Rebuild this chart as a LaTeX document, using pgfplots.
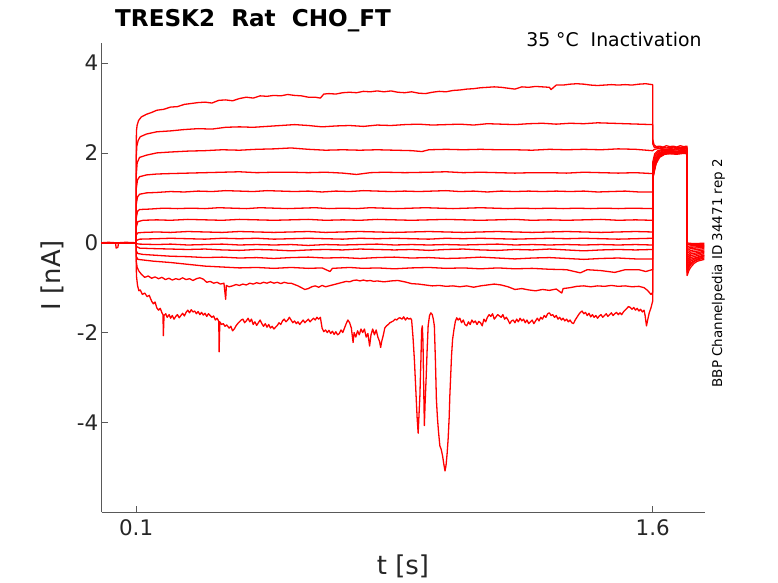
\documentclass[border=0pt]{standalone}
\usepackage{fontspec}
\setmainfont{DejaVu Sans}
\usepackage{pgfplots}
\pgfplotsset{compat=1.18}
\definecolor{axgray}{HTML}{262626}
\pgfplotsset{tr/.style={red, line width=1.3bp, line join=round, mark=none}}
\begin{document}
\begin{tikzpicture}[x=1bp,y=1bp]
\useasboundingbox (0,0) rectangle (778,583);
\begin{axis}[
  at={(101.7bp,70.7bp)}, anchor=south west,
  scale only axis, width=603.3bp, height=469bp,
  xmin=0, xmax=1.752, ymin=-6, ymax=4.44,
  axis x line*=bottom, axis y line*=left,
  xtick={0.1,1.6}, xticklabels={0.1,1.6},
  ytick={-4,-2,0,2,4}, yticklabels={-4,-2,0,2,4},
  tick align=inside, major tick length=6bp,
  axis line style={black!65, line width=0.6bp},
  tick style={black!65, line width=0.6bp},
  tick label style={font=\fontsize{21.5}{25}\selectfont, text=axgray},
  xticklabel style={yshift=-4bp},
  clip=true,
]
% trace 1
\addplot[tr] coordinates {(0,0)(0.1,0)(0.1003,2.2)(0.101,2.5)(0.103,2.62)(0.107,2.72)(0.115,2.80)(0.13,2.86)(0.145,2.90)(0.16,2.95)(0.18,2.97)(0.2,3.02)(0.22,3.03)(0.24,3.08)(0.26,3.10)(0.28,3.12)(0.3,3.13)(0.32,3.11)(0.34,3.17)(0.36,3.18)(0.38,3.16)(0.4,3.21)(0.42,3.24)(0.44,3.22)(0.46,3.27)(0.48,3.26)(0.5,3.28)(0.52,3.27)(0.54,3.30)(0.56,3.28)(0.58,3.27)(0.6,3.24)(0.62,3.24)(0.635,3.22)(0.645,3.31)(0.66,3.32)(0.68,3.31)(0.7,3.34)(0.72,3.35)(0.74,3.34)(0.76,3.37)(0.78,3.36)(0.8,3.38)(0.82,3.36)(0.84,3.38)(0.86,3.35)(0.88,3.34)(0.9,3.36)(0.92,3.33)(0.94,3.32)(0.96,3.35)(0.98,3.37)(1.0,3.36)(1.02,3.39)(1.04,3.40)(1.06,3.42)(1.08,3.43)(1.1,3.45)(1.12,3.46)(1.14,3.47)(1.16,3.46)(1.18,3.44)(1.2,3.42)(1.22,3.47)(1.24,3.46)(1.26,3.48)(1.28,3.47)(1.3,3.46)(1.305,3.41)(1.32,3.51)(1.34,3.51)(1.36,3.53)(1.38,3.54)(1.4,3.53)(1.42,3.51)(1.44,3.50)(1.46,3.51)(1.48,3.52)(1.5,3.51)(1.52,3.52)(1.54,3.51)(1.56,3.53)(1.58,3.54)(1.598,3.52)
(1.6,3.52)(1.6003,2.3)(1.604,2.18)(1.61,2.14)(1.62,2.15)(1.63,2.13)(1.64,2.16)(1.65,2.14)(1.66,2.15)(1.67,2.13)(1.68,2.16)(1.69,2.14)(1.6995,2.15)(1.7,0.0)(1.705,-0.01)(1.72,-0.02)(1.75,-0.01)};
% trace 2
\addplot[tr] coordinates {(0,0)(0.1,0)(0.1003,1.9)(0.102,2.15)(0.106,2.28)(0.112,2.36)(0.13,2.42)(0.16,2.47)(0.2,2.49)(0.24,2.52)(0.28,2.54)(0.32,2.53)(0.36,2.57)(0.4,2.58)(0.44,2.57)(0.48,2.59)(0.52,2.61)(0.56,2.63)(0.6,2.61)(0.64,2.58)(0.68,2.60)(0.72,2.61)(0.76,2.59)(0.8,2.62)(0.84,2.61)(0.88,2.63)(0.92,2.64)(0.96,2.62)(1.0,2.63)(1.04,2.64)(1.08,2.62)(1.12,2.65)(1.16,2.64)(1.2,2.63)(1.24,2.65)(1.28,2.66)(1.32,2.64)(1.36,2.66)(1.4,2.65)(1.44,2.67)(1.48,2.66)(1.52,2.65)(1.56,2.64)(1.598,2.63)
(1.6,2.63)(1.6003,2.2)(1.605,2.12)(1.62,2.13)(1.64,2.11)(1.66,2.13)(1.68,2.12)(1.6995,2.12)(1.7,-0.04)(1.71,-0.04)(1.75,-0.04)};
% trace 3
\addplot[tr] coordinates {(0,0)(0.1,0)(0.1003,1.5)(0.103,1.78)(0.11,1.90)(0.13,1.95)(0.16,2.0)(0.2,2.02)(0.25,2.04)(0.3,2.05)(0.35,2.07)(0.4,2.06)(0.45,2.08)(0.5,2.09)(0.55,2.11)(0.6,2.08)(0.65,2.06)(0.7,2.07)(0.75,2.06)(0.8,2.07)(0.85,2.06)(0.9,2.05)(0.93,2.03)(0.95,2.07)(1.0,2.08)(1.05,2.07)(1.1,2.08)(1.15,2.07)(1.2,2.07)(1.25,2.06)(1.3,2.08)(1.35,2.07)(1.4,2.08)(1.45,2.07)(1.5,2.09)(1.55,2.08)(1.598,2.05)
(1.6,2.05)(1.605,2.08)(1.62,2.1)(1.64,2.08)(1.66,2.11)(1.68,2.09)(1.6995,2.1)(1.7,-0.08)(1.71,-0.07)(1.75,-0.06)};
% trace 4
\addplot[tr] coordinates {(0,0)(0.1,0)(0.1003,1.2)(0.104,1.40)(0.11,1.47)(0.13,1.51)(0.16,1.53)(0.2,1.54)(0.25,1.55)(0.3,1.56)(0.35,1.57)(0.4,1.58)(0.45,1.56)(0.5,1.57)(0.55,1.57)(0.6,1.56)(0.65,1.57)(0.7,1.55)(0.74,1.52)(0.78,1.56)(0.82,1.57)(0.88,1.56)(0.95,1.57)(1.0,1.58)(1.05,1.56)(1.1,1.57)(1.15,1.56)(1.2,1.55)(1.25,1.56)(1.3,1.56)(1.35,1.55)(1.4,1.57)(1.45,1.56)(1.5,1.55)(1.55,1.56)(1.598,1.54)
(1.6,1.54)(1.6003,1.8)(1.606,1.98)(1.615,2.05)(1.63,2.08)(1.65,2.07)(1.67,2.09)(1.69,2.08)(1.6995,2.09)(1.7,-0.13)(1.71,-0.1)(1.75,-0.08)};
% trace 5
\addplot[tr] coordinates {(0,0)(0.1,0)(0.1003,0.85)(0.104,1.02)(0.11,1.08)(0.13,1.11)(0.16,1.12)(0.2,1.14)(0.24,1.13)(0.28,1.15)(0.32,1.14)(0.36,1.16)(0.4,1.15)(0.44,1.14)(0.48,1.16)(0.52,1.15)(0.56,1.14)(0.6,1.15)(0.64,1.13)(0.68,1.15)(0.72,1.14)(0.76,1.16)(0.8,1.15)(0.84,1.14)(0.88,1.15)(0.92,1.14)(0.96,1.15)(1.0,1.16)(1.04,1.14)(1.08,1.15)(1.12,1.13)(1.16,1.15)(1.2,1.14)(1.24,1.15)(1.28,1.14)(1.32,1.15)(1.36,1.14)(1.4,1.15)(1.44,1.13)(1.48,1.14)(1.52,1.15)(1.56,1.13)(1.598,1.13)
(1.6,1.13)(1.6003,1.7)(1.607,1.94)(1.617,2.03)(1.63,2.06)(1.65,2.05)(1.67,2.07)(1.69,2.06)(1.6995,2.07)(1.7,-0.18)(1.71,-0.13)(1.75,-0.1)};
% trace 6
\addplot[tr] coordinates {(0,0)(0.1,0)(0.1003,0.55)(0.104,0.7)(0.11,0.74)(0.14,0.75)(0.18,0.77)(0.22,0.76)(0.26,0.77)(0.3,0.76)(0.34,0.78)(0.38,0.77)(0.42,0.76)(0.46,0.78)(0.5,0.77)(0.54,0.76)(0.58,0.77)(0.62,0.78)(0.66,0.76)(0.7,0.77)(0.74,0.76)(0.78,0.78)(0.82,0.77)(0.86,0.76)(0.9,0.77)(0.94,0.78)(0.98,0.77)(1.02,0.76)(1.06,0.77)(1.1,0.78)(1.14,0.77)(1.18,0.76)(1.22,0.77)(1.26,0.76)(1.3,0.77)(1.34,0.76)(1.38,0.77)(1.42,0.76)(1.46,0.77)(1.5,0.76)(1.54,0.77)(1.598,0.76)
(1.6,0.76)(1.6003,1.62)(1.608,1.9)(1.618,2.0)(1.63,2.04)(1.65,2.05)(1.67,2.04)(1.69,2.06)(1.6995,2.05)(1.7,-0.24)(1.71,-0.17)(1.75,-0.13)};
% trace 7
\addplot[tr] coordinates {(0,0)(0.1,0)(0.1003,0.35)(0.105,0.47)(0.12,0.5)(0.16,0.51)(0.2,0.5)(0.25,0.52)(0.3,0.51)(0.35,0.5)(0.4,0.52)(0.45,0.51)(0.5,0.5)(0.55,0.51)(0.6,0.52)(0.65,0.5)(0.7,0.51)(0.75,0.5)(0.8,0.52)(0.85,0.51)(0.9,0.5)(0.95,0.51)(1.0,0.52)(1.05,0.51)(1.1,0.5)(1.15,0.51)(1.2,0.52)(1.25,0.5)(1.3,0.51)(1.35,0.5)(1.4,0.51)(1.45,0.52)(1.5,0.5)(1.55,0.51)(1.598,0.5)
(1.6,0.5)(1.6003,1.58)(1.609,1.88)(1.62,1.99)(1.635,2.03)(1.65,2.04)(1.67,2.03)(1.69,2.05)(1.6995,2.04)(1.7,-0.3)(1.71,-0.21)(1.75,-0.16)};
% trace 8
\addplot[tr] coordinates {(0,0)(0.1,0)(0.1003,0.17)(0.105,0.22)(0.12,0.23)(0.16,0.24)(0.2,0.23)(0.25,0.25)(0.3,0.24)(0.35,0.23)(0.4,0.25)(0.45,0.24)(0.5,0.23)(0.55,0.24)(0.6,0.25)(0.65,0.23)(0.7,0.24)(0.75,0.25)(0.8,0.24)(0.85,0.23)(0.9,0.24)(0.95,0.25)(1.0,0.24)(1.05,0.23)(1.1,0.24)(1.15,0.25)(1.2,0.24)(1.25,0.23)(1.3,0.24)(1.35,0.25)(1.4,0.24)(1.45,0.23)(1.5,0.24)(1.55,0.25)(1.598,0.24)
(1.6,0.24)(1.6003,1.55)(1.61,1.86)(1.62,1.97)(1.635,2.02)(1.65,2.03)(1.67,2.02)(1.69,2.04)(1.6995,2.03)(1.7,-0.35)(1.71,-0.25)(1.75,-0.19)};
% trace 9
\addplot[tr] coordinates {(0,0)(0.1,0)(0.1003,0.05)(0.11,0.08)(0.16,0.09)(0.2,0.1)(0.25,0.09)(0.3,0.08)(0.35,0.1)(0.4,0.09)(0.45,0.1)(0.5,0.08)(0.55,0.09)(0.6,0.1)(0.65,0.09)(0.7,0.08)(0.75,0.1)(0.8,0.09)(0.85,0.1)(0.9,0.09)(0.95,0.08)(1.0,0.1)(1.05,0.09)(1.1,0.1)(1.15,0.09)(1.2,0.08)(1.25,0.09)(1.3,0.1)(1.35,0.09)(1.4,0.1)(1.45,0.09)(1.5,0.08)(1.55,0.09)(1.598,0.1)
(1.6,0.1)(1.6003,1.52)(1.61,1.84)(1.62,1.95)(1.635,2.01)(1.65,2.02)(1.67,2.01)(1.69,2.03)(1.6995,2.02)(1.7,-0.4)(1.71,-0.29)(1.75,-0.21)};
% trace 10
\addplot[tr] coordinates {(0,0)(0.1,0)(0.1003,-0.02)(0.11,-0.03)(0.16,-0.04)(0.2,-0.03)(0.25,-0.05)(0.3,-0.04)(0.35,-0.03)(0.4,-0.05)(0.45,-0.04)(0.5,-0.05)(0.55,-0.04)(0.6,-0.06)(0.65,-0.04)(0.7,-0.05)(0.75,-0.04)(0.8,-0.03)(0.85,-0.05)(0.9,-0.04)(0.95,-0.05)(1.0,-0.04)(1.05,-0.05)(1.1,-0.04)(1.15,-0.03)(1.2,-0.05)(1.25,-0.04)(1.3,-0.05)(1.35,-0.04)(1.4,-0.05)(1.45,-0.04)(1.5,-0.05)(1.55,-0.04)(1.598,-0.05)
(1.6,-0.05)(1.6003,1.5)(1.61,1.82)(1.62,1.94)(1.635,2.0)(1.65,2.01)(1.67,2.0)(1.69,2.02)(1.6995,2.01)(1.7,-0.45)(1.71,-0.33)(1.75,-0.24)};
% trace 11
\addplot[tr] coordinates {(0,0)(0.1,0)(0.1003,-0.08)(0.11,-0.12)(0.15,-0.13)(0.2,-0.14)(0.25,-0.15)(0.3,-0.14)(0.35,-0.16)(0.4,-0.17)(0.45,-0.15)(0.5,-0.16)(0.55,-0.18)(0.6,-0.16)(0.65,-0.15)(0.7,-0.16)(0.75,-0.14)(0.8,-0.15)(0.85,-0.16)(0.9,-0.15)(0.95,-0.17)(1.0,-0.15)(1.05,-0.14)(1.1,-0.16)(1.15,-0.17)(1.2,-0.15)(1.25,-0.16)(1.3,-0.14)(1.35,-0.16)(1.4,-0.18)(1.45,-0.16)(1.5,-0.15)(1.55,-0.16)(1.598,-0.15)
(1.6,-0.15)(1.6003,1.48)(1.61,1.8)(1.62,1.93)(1.635,1.99)(1.65,2.0)(1.67,1.99)(1.69,2.01)(1.6995,2.0)(1.7,-0.5)(1.71,-0.37)(1.75,-0.27)};
% trace 12
\addplot[tr] coordinates {(0,0)(0.1,0)(0.1003,-0.18)(0.105,-0.24)(0.12,-0.26)(0.16,-0.28)(0.2,-0.3)(0.25,-0.31)(0.3,-0.33)(0.35,-0.32)(0.4,-0.34)(0.45,-0.33)(0.5,-0.35)(0.55,-0.33)(0.6,-0.32)(0.65,-0.34)(0.7,-0.33)(0.75,-0.35)(0.8,-0.33)(0.85,-0.32)(0.9,-0.34)(0.95,-0.33)(1.0,-0.35)(1.05,-0.34)(1.1,-0.32)(1.15,-0.34)(1.2,-0.36)(1.25,-0.34)(1.3,-0.33)(1.35,-0.35)(1.4,-0.37)(1.45,-0.35)(1.5,-0.34)(1.55,-0.36)(1.598,-0.36)
(1.6,-0.36)(1.6003,1.46)(1.61,1.78)(1.62,1.92)(1.635,1.98)(1.65,1.99)(1.67,1.98)(1.69,2.0)(1.6995,1.99)(1.7,-0.55)(1.71,-0.41)(1.73,-0.33)(1.75,-0.29)};
% trace 13
\addplot[tr] coordinates {(0,0)(0.1,0)(0.1003,-0.3)(0.105,-0.37)(0.15,-0.41)(0.2,-0.44)(0.25,-0.48)(0.3,-0.52)(0.35,-0.54)(0.4,-0.56)(0.45,-0.55)(0.5,-0.57)(0.55,-0.55)(0.6,-0.57)(0.64,-0.56)(0.663,-0.64)(0.67,-0.57)(0.72,-0.55)(0.76,-0.57)(0.8,-0.56)(0.85,-0.58)(0.9,-0.56)(0.95,-0.55)(1.0,-0.57)(1.05,-0.56)(1.1,-0.58)(1.15,-0.56)(1.2,-0.58)(1.25,-0.57)(1.3,-0.59)(1.35,-0.6)(1.39,-0.67)(1.41,-0.6)(1.45,-0.62)(1.49,-0.66)(1.52,-0.6)(1.56,-0.6)(1.58,-0.64)(1.598,-0.6)
(1.6,-0.6)(1.6003,1.44)(1.61,1.76)(1.62,1.9)(1.635,1.97)(1.65,1.98)(1.67,1.97)(1.69,1.99)(1.6995,1.98)(1.7,-0.6)(1.71,-0.45)(1.73,-0.36)(1.75,-0.31)};
% trace 14
\addplot[tr] coordinates {(0,0)(0.1,0)(0.1003,-0.4)(0.103,-0.55)(0.108,-0.63)(0.115,-0.7)(0.125,-0.77)(0.135,-0.74)(0.145,-0.79)(0.155,-0.76)(0.165,-0.8)(0.175,-0.77)(0.185,-0.82)(0.195,-0.79)(0.205,-0.83)(0.215,-0.8)(0.225,-0.82)(0.235,-0.78)(0.245,-0.82)(0.255,-0.8)(0.265,-0.84)(0.275,-0.8)(0.285,-0.78)(0.295,-0.81)(0.305,-0.88)(0.315,-0.86)(0.325,-0.9)(0.335,-0.88)(0.345,-0.92)(0.355,-0.9)(0.36,-1.26)(0.362,-0.95)(0.37,-0.98)(0.38,-0.96)(0.39,-0.93)(0.4,-0.95)(0.41,-0.92)(0.42,-0.94)(0.43,-0.9)(0.44,-0.92)(0.45,-0.89)(0.46,-0.91)(0.47,-0.88)(0.48,-0.9)(0.49,-0.87)(0.5,-0.9)(0.51,-0.88)(0.52,-0.91)(0.53,-0.88)(0.54,-0.9)(0.55,-0.9)(0.56,-0.93)(0.57,-0.96)(0.58,-1.0)(0.59,-1.04)(0.6,-1.02)(0.61,-0.98)(0.62,-0.96)(0.63,-0.99)(0.64,-0.95)(0.65,-0.98)(0.66,-0.96)(0.67,-0.94)(0.68,-0.92)(0.69,-0.9)(0.7,-0.88)(0.71,-0.86)(0.72,-0.87)(0.73,-0.84)(0.74,-0.83)(0.75,-0.85)(0.76,-0.83)(0.77,-0.85)(0.78,-0.84)(0.79,-0.86)(0.8,-0.85)(0.82,-0.87)(0.84,-0.85)(0.86,-0.84)(0.88,-0.87)(0.9,-0.91)(0.92,-0.92)(0.94,-0.94)(0.96,-0.96)(0.98,-0.95)(1.0,-0.97)(1.02,-0.96)(1.04,-0.98)(1.06,-0.96)(1.08,-0.99)(1.1,-0.96)(1.12,-0.94)(1.14,-0.92)(1.16,-0.94)(1.18,-0.98)(1.2,-1.04)(1.22,-1.02)(1.24,-1.05)(1.26,-1.07)(1.28,-1.04)(1.3,-1.06)(1.32,-1.03)(1.336,-1.12)(1.34,-1.02)(1.36,-1.0)(1.38,-0.97)(1.4,-0.96)(1.42,-0.98)(1.44,-0.96)(1.46,-0.97)(1.48,-0.95)(1.5,-0.97)(1.52,-0.96)(1.54,-0.98)(1.56,-0.97)(1.575,-1.0)(1.585,-1.06)(1.595,-1.15)(1.599,-1.12)
(1.6,-1.1)(1.6003,1.42)(1.605,1.68)(1.61,1.84)(1.62,1.95)(1.63,1.99)(1.64,2.01)(1.66,2.0)(1.68,2.02)(1.6995,2.01)(1.7,-0.66)(1.705,-0.56)(1.71,-0.49)(1.72,-0.42)(1.73,-0.38)(1.75,-0.34)};
% trace 15
\addplot[tr] coordinates {(0,0)(0.02,0.01)(0.04,0)(0.042,-0.12)(0.047,-0.1)(0.049,0)(0.07,0.01)(0.1,0)(0.1003,-0.5)(0.101,-0.74)(0.104,-0.95)(0.108,-1.07)(0.112,-1.05)(0.118,-1.15)(0.125,-1.12)(0.132,-1.2)(0.138,-1.17)(0.145,-1.3)(0.15,-1.36)(0.155,-1.32)(0.16,-1.45)(0.165,-1.5)(0.17,-1.46)(0.175,-1.56)(0.178,-1.6)(0.179,-2.07)(0.181,-1.62)(0.186,-1.58)(0.19,-1.66)(0.196,-1.6)(0.2,-1.68)(0.205,-1.62)(0.21,-1.7)(0.215,-1.64)(0.22,-1.6)(0.225,-1.67)(0.23,-1.62)(0.235,-1.57)(0.24,-1.63)(0.245,-1.55)(0.25,-1.5)(0.255,-1.56)(0.26,-1.49)(0.265,-1.54)(0.27,-1.52)(0.275,-1.58)(0.28,-1.53)(0.285,-1.6)(0.29,-1.55)(0.295,-1.61)(0.3,-1.57)(0.305,-1.64)(0.31,-1.58)(0.315,-1.62)(0.32,-1.66)(0.325,-1.63)(0.33,-1.72)(0.335,-1.68)(0.34,-1.75)(0.341,-2.43)(0.343,-1.76)(0.348,-1.82)(0.353,-1.8)(0.358,-1.86)(0.363,-1.83)(0.37,-1.9)(0.375,-1.86)(0.38,-1.96)(0.385,-1.92)(0.39,-1.85)(0.395,-1.8)(0.4,-1.76)(0.405,-1.72)(0.41,-1.7)(0.415,-1.78)(0.42,-1.74)(0.425,-1.68)(0.43,-1.76)(0.435,-1.7)(0.44,-1.82)(0.445,-1.76)(0.45,-1.84)(0.455,-1.78)(0.46,-1.72)(0.465,-1.8)(0.47,-1.86)(0.475,-1.8)(0.48,-1.88)(0.485,-1.82)(0.49,-1.9)(0.495,-1.86)(0.5,-1.92)(0.505,-1.88)(0.51,-1.84)(0.515,-1.78)(0.52,-1.82)(0.525,-1.74)(0.53,-1.7)(0.535,-1.76)(0.54,-1.72)(0.545,-1.66)(0.55,-1.72)(0.555,-1.78)(0.56,-1.74)(0.565,-1.8)(0.57,-1.76)(0.575,-1.82)(0.58,-1.77)(0.585,-1.72)(0.59,-1.78)(0.595,-1.74)(0.6,-1.7)(0.605,-1.76)(0.61,-1.72)(0.615,-1.68)(0.62,-1.72)(0.625,-1.66)(0.63,-1.7)(0.635,-1.66)(0.64,-1.9)(0.645,-1.98)(0.65,-1.94)(0.655,-2.0)(0.66,-1.95)(0.665,-2.02)(0.67,-1.97)(0.675,-2.04)(0.68,-1.98)(0.685,-2.05)(0.69,-2.02)(0.695,-1.94)(0.7,-2.0)(0.705,-1.9)(0.71,-1.8)(0.715,-1.72)(0.72,-1.78)(0.725,-1.9)(0.73,-2.22)(0.733,-2.0)(0.738,-2.1)(0.743,-1.96)(0.748,-2.05)(0.753,-1.92)(0.758,-2.0)(0.763,-1.92)(0.768,-2.1)(0.773,-2.02)(0.778,-2.3)(0.782,-2.05)(0.787,-1.92)(0.792,-2.05)(0.797,-1.94)(0.802,-2.1)(0.807,-2.2)(0.81,-2.33)(0.813,-2.2)(0.818,-2.05)(0.822,-1.9)(0.827,-1.85)(0.832,-1.82)(0.837,-1.78)(0.842,-1.76)(0.847,-1.74)(0.852,-1.7)(0.857,-1.72)(0.862,-1.68)(0.866,-1.67)(0.872,-1.7)(0.877,-1.65)(0.882,-1.72)(0.887,-1.67)(0.892,-1.7)(0.897,-1.68)(0.9,-1.72)(0.904,-2.1)(0.908,-2.6)(0.913,-3.41)(0.916,-3.9)(0.919,-4.24)(0.921,-3.9)(0.924,-3.41)(0.927,-2.6)(0.929,-1.95)(0.931,-1.85)(0.933,-2.2)(0.935,-3.2)(0.937,-4.07)(0.939,-3.6)(0.942,-3.04)(0.945,-2.4)(0.948,-1.85)(0.952,-1.62)(0.956,-1.56)(0.96,-1.6)(0.963,-1.7)(0.966,-1.85)(0.969,-2.6)(0.972,-3.5)(0.975,-3.9)(0.978,-4.2)(0.982,-4.52)(0.986,-4.6)(0.99,-4.75)(0.994,-4.95)(0.997,-5.08)(1.0,-4.95)(1.003,-4.7)(1.006,-4.37)(1.009,-3.9)(1.011,-3.4)(1.013,-3.04)(1.016,-2.5)(1.019,-2.15)(1.023,-1.93)(1.027,-1.75)(1.031,-1.67)(1.035,-1.72)(1.04,-1.68)(1.045,-1.78)(1.05,-1.72)(1.055,-1.82)(1.06,-1.85)(1.065,-1.76)(1.07,-1.82)(1.075,-1.72)(1.08,-1.78)(1.085,-1.74)(1.09,-1.82)(1.095,-1.75)(1.1,-1.78)(1.105,-1.85)(1.11,-1.7)(1.115,-1.76)(1.12,-1.66)(1.125,-1.6)(1.13,-1.64)(1.135,-1.58)(1.14,-1.7)(1.145,-1.65)(1.15,-1.6)(1.155,-1.63)(1.16,-1.66)(1.165,-1.6)(1.17,-1.7)(1.175,-1.66)(1.18,-1.72)(1.185,-1.8)(1.19,-1.74)(1.195,-1.72)(1.2,-1.78)(1.205,-1.7)(1.21,-1.76)(1.215,-1.68)(1.22,-1.74)(1.225,-1.7)(1.23,-1.78)(1.235,-1.72)(1.24,-1.8)(1.245,-1.76)(1.25,-1.72)(1.255,-1.8)(1.26,-1.74)(1.265,-1.68)(1.27,-1.74)(1.275,-1.66)(1.28,-1.7)(1.285,-1.62)(1.29,-1.66)(1.295,-1.58)(1.3,-1.56)(1.305,-1.62)(1.31,-1.6)(1.315,-1.66)(1.32,-1.62)(1.325,-1.7)(1.33,-1.66)(1.335,-1.72)(1.34,-1.68)(1.345,-1.74)(1.35,-1.7)(1.355,-1.76)(1.36,-1.72)(1.365,-1.78)(1.37,-1.8)(1.375,-1.72)(1.38,-1.66)(1.385,-1.6)(1.39,-1.55)(1.395,-1.52)(1.4,-1.58)(1.405,-1.55)(1.41,-1.62)(1.415,-1.57)(1.42,-1.65)(1.425,-1.6)(1.43,-1.66)(1.435,-1.62)(1.44,-1.68)(1.445,-1.63)(1.45,-1.6)(1.455,-1.66)(1.46,-1.62)(1.465,-1.58)(1.47,-1.64)(1.475,-1.6)(1.48,-1.56)(1.485,-1.62)(1.49,-1.58)(1.495,-1.55)(1.5,-1.6)(1.505,-1.56)(1.51,-1.6)(1.515,-1.54)(1.52,-1.5)(1.525,-1.46)(1.53,-1.42)(1.535,-1.44)(1.54,-1.48)(1.545,-1.44)(1.55,-1.5)(1.555,-1.46)(1.56,-1.52)(1.565,-1.48)(1.57,-1.54)(1.575,-1.5)(1.578,-1.62)(1.582,-1.85)(1.586,-1.7)(1.59,-1.56)(1.595,-1.45)(1.599,-1.33)
(1.6,-1.3)(1.6003,1.4)(1.605,1.65)(1.61,1.82)(1.615,1.9)(1.62,1.95)(1.63,1.99)(1.64,2.0)(1.65,2.02)(1.66,2.0)(1.67,2.03)(1.68,2.01)(1.69,2.03)(1.6995,2.02)(1.7,-0.73)(1.705,-0.62)(1.71,-0.55)(1.72,-0.46)(1.73,-0.41)(1.75,-0.37)};
\end{axis}
\node[anchor=base west, font=\fontsize{23.2}{28}\selectfont\bfseries, text=black, inner sep=0pt] at (115,556.3) {TRESK2\ \ Rat\ \ CHO\_FT};
\node[anchor=base east, font=\fontsize{18.9}{22}\selectfont, text=black, inner sep=0pt] at (701.7,536.3) {35 °C\ \ Inactivation};
\node[anchor=base, rotate=90, font=\fontsize{13.5}{16}\selectfont, text=black, inner sep=0pt] at (722,309.7) {BBP Channelpedia ID 34471 rep 2};
\node[anchor=base, font=\fontsize{26}{30}\selectfont, text=axgray, inner sep=0pt] at (403,8) {t [s]};
\node[anchor=base, rotate=90, font=\fontsize{26}{30}\selectfont, text=axgray, inner sep=0pt] at (60,308) {I [nA]};
\end{tikzpicture}
\end{document}
